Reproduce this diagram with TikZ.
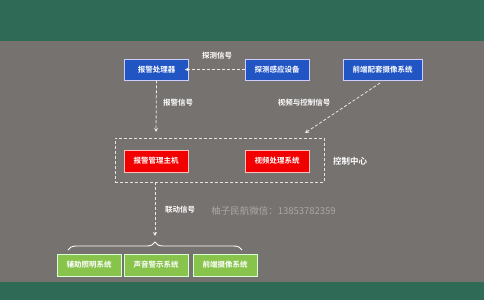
\documentclass[tikz,border=0pt]{standalone}
\usepackage{fontspec}
\setmainfont{Noto Sans CJK SC}
\newfontfamily\cjkb{Noto Sans CJK SC Bold}
\usetikzlibrary{arrows.meta,decorations.pathreplacing}
\definecolor{bandgreen}{HTML}{2E6A56}
\definecolor{bggray}{HTML}{767270}
\definecolor{boxblue}{HTML}{2255C4}
\definecolor{boxred}{HTML}{F20000}
\definecolor{boxgreen}{HTML}{88C34B}
\definecolor{wm}{HTML}{A9A7A6}
\tikzset{
  x=1pt,y=-1pt,
  bx/.style={draw=#1,line width=0.8pt,inner sep=0pt,text=white,font=\cjkb\fontsize{7.5}{8}\selectfont},
  bluebox/.style={bx=blue!20!white,fill=boxblue,minimum width=64pt,minimum height=21pt},
  redbox/.style={bx=red!25!white,fill=boxred,minimum width=64pt,minimum height=22pt},
  greenbox/.style={bx=green!15!white,fill=boxgreen,minimum width=64pt,minimum height=22pt},
  lbl/.style={text=white,font=\cjkb\fontsize{7.5}{8}\selectfont,inner sep=0pt},
  darr/.style={draw=white!92!black,densely dashed,line width=0.8pt,-{Stealth[length=4pt,width=4pt]}}
}
\begin{document}
\begin{tikzpicture}
\useasboundingbox (0,0) rectangle (484,300);
\fill[bandgreen] (0,0) rectangle (484,300);
\fill[bggray] (0,41) rectangle (484,282);
\node[bluebox] (alarmproc) at (156.5,69.5) {报警处理器};
\node[bluebox] (sensor) at (277,69.5) {探测感应设备};
\node[bluebox,minimum width=79pt] (frontcam) at (382.5,69.5) {前端配套摄像系统};
\node[lbl] (l1) at (217,56) {探测信号};
\node[lbl] (l2) at (178,103) {报警信号};
\node[lbl] (l3) at (304,103) {视频与控制信号};
\node[draw=white!90!black,densely dashed,line width=0.8pt,minimum width=209pt,minimum height=44pt,inner sep=0pt] (center) at (219.5,160) {};
\node[redbox] (host) at (156,161) {报警管理主机};
\node[redbox] (video) at (277,161) {视频处理系统};
\node[lbl,font=\cjkb\fontsize{8.5}{9}\selectfont] (ctr) at (350,161) {控制中心};
\node[lbl] (l4) at (180,210) {联动信号};
\node[inner sep=0pt,text=wm,font=\fontsize{9.5}{10}\selectfont] (wmk) at (273.5,211) {柚子民航微信：13853782359};
\node[greenbox] (light) at (89,265) {辅助照明系统};
\node[greenbox] (sound) at (156,265) {声音警示系统};
\node[greenbox] (cam) at (225,265) {前端摄像系统};
\coordinate (bl) at (68,250);
\coordinate (br) at (242,250);
\coordinate (tip) at (155,236);
\coordinate (t1) at (156,132);
\coordinate (d0) at (380,83);
\coordinate (t2) at (305,133);
\coordinate (s4) at (155,182);
\draw[darr] (sensor.west) -- ([xshift=-4pt]alarmproc.east);
\draw[darr] (alarmproc.south) -- (t1);
\draw[darr] (d0) -- (t2);
\draw[darr] (s4) -- (tip);
\draw[white,line width=0.9pt,decorate,decoration={brace,amplitude=8pt,aspect=0.5}] (bl) -- (br);
\end{tikzpicture}
\end{document}
